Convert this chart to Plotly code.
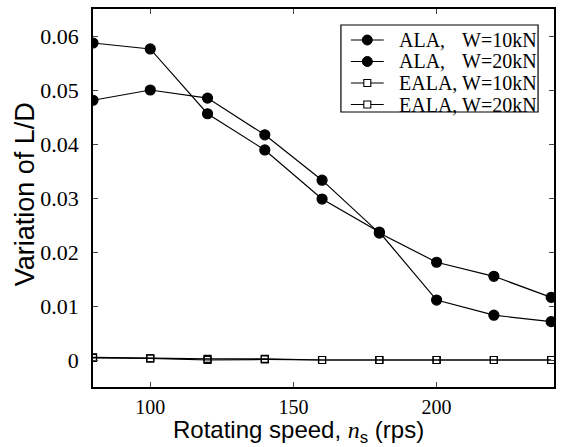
import plotly.graph_objects as go

speed = [80, 100, 120, 140, 160, 180, 200, 220, 240]
ala_10 = [0.0587, 0.0576, 0.0456, 0.0389, 0.0298, 0.0237, 0.0111, 0.0083, 0.0071]
ala_20 = [0.0481, 0.0500, 0.0485, 0.0417, 0.0333, 0.0235, 0.0181, 0.0155, 0.0116]
eala_10 = [0.0005, 0.0003, 0.0002, 0.0002, 0.0, 0.0, 0.0, 0.0, 0.0]
eala_20 = [0.0004, 0.0003, 0.0000, 0.0001, 0.0, 0.0, 0.0, 0.0, 0.0]
method_names = ["ALA,", "ALA,", "EALA,", "EALA,"]
load_names = ["W=10kN", "W=20kN", "W=10kN", "W=20kN"]
y_ticks = [0, 0.01, 0.02, 0.03, 0.04, 0.05, 0.06]
y_ticklabels = ["0", "0.01", "0.02", "0.03", "0.04", "0.05", "0.06"]
x_ticks = [100, 150, 200]

W, H = 562, 447
L, R, T, B = 93, 6, 9, 60
PW, PH = W - L - R, H - T - B


def px(x):
    return (x - L) / PW


def py(y):
    return (H - B - y) / PH


series = [ala_10, ala_20, eala_10, eala_20]
symbols = ["circle", "circle", "square-open", "square-open"]
sizes = [10, 10, 7, 7]

fig = go.Figure()
for ys, m, ld, sym, sz in zip(series, method_names, load_names, symbols, sizes):
    fig.add_trace(go.Scatter(x=speed, y=ys, name=f"{m} {ld}", mode="lines+markers",
                             showlegend=False,
                             line=dict(color="black", width=1.2),
                             marker=dict(symbol=sym, size=sz, color="black",
                                         line=dict(color="black", width=1.2))))

# legend drawn by hand for compact spacing
shapes = []
annotations = []
box = dict(x0=342, x1=540, y0=25, y1=112)
shapes.append(dict(type="rect", xref="paper", yref="paper",
                   x0=px(box["x0"]), x1=px(box["x1"]), y0=py(box["y1"]), y1=py(box["y0"]),
                   line=dict(color="black", width=1.2), fillcolor="white", layer="above"))
row_y = [40, 61.5, 83, 104.5]
for i, (m, ld, sym) in enumerate(zip(method_names, load_names, symbols)):
    yy = py(row_y[i])
    shapes.append(dict(type="line", xref="paper", yref="paper",
                       x0=px(352), x1=px(385), y0=yy, y1=yy,
                       line=dict(color="black", width=1.2), layer="above"))
    if sym == "circle":
        shapes.append(dict(type="circle", xref="paper", yref="paper",
                           xsizemode="pixel", ysizemode="pixel",
                           xanchor=px(368.5), yanchor=yy, x0=-5, x1=5, y0=-5, y1=5,
                           fillcolor="black", line=dict(color="black", width=1), layer="above"))
    else:
        shapes.append(dict(type="rect", xref="paper", yref="paper",
                           xsizemode="pixel", ysizemode="pixel",
                           xanchor=px(368.5), yanchor=yy, x0=-3.5, x1=3.5, y0=-3.5, y1=3.5,
                           fillcolor="white", line=dict(color="black", width=1.1), layer="above"))
    annotations.append(dict(text=m, xref="paper", yref="paper", x=px(398), y=yy,
                            xanchor="left", yanchor="middle", showarrow=False,
                            font=dict(family="Liberation Serif", size=20, color="black")))
    annotations.append(dict(text=ld, xref="paper", yref="paper", x=px(462), y=yy,
                            xanchor="left", yanchor="middle", showarrow=False,
                            font=dict(family="Liberation Serif", size=20, color="black")))

# axis titles
annotations.append(dict(
    text="Rotating speed, <span style='font-family:Liberation Serif'><i>n</i></span><sub>s</sub> (rps)",
    xref="paper", yref="paper", x=px(299), y=py(449), xanchor="center", yanchor="bottom",
    showarrow=False, font=dict(family="Liberation Sans", size=24, color="black")))
annotations.append(dict(
    text="Variation of L/D", textangle=-90,
    xref="paper", yref="paper", x=px(25), y=py(194), xanchor="center", yanchor="middle",
    showarrow=False, font=dict(family="Liberation Sans", size=27, color="black")))

fig.update_layout(
    width=W, height=H,
    margin=dict(l=L, r=R, t=T, b=B),
    paper_bgcolor="white", plot_bgcolor="white",
    showlegend=False,
    shapes=shapes, annotations=annotations,
    xaxis=dict(range=[80, 241], tickvals=x_ticks, ticks="inside", ticklen=5,
               showline=True, linecolor="black", linewidth=1.5, mirror="ticks",
               showgrid=False, zeroline=False, ticklabelstandoff=1,
               tickfont=dict(family="Liberation Serif", size=20, color="black")),
    yaxis=dict(range=[-0.005, 0.065], tickvals=y_ticks, ticktext=y_ticklabels,
               ticks="inside", ticklen=5,
               showline=True, linecolor="black", linewidth=1.5, mirror="ticks",
               showgrid=False, zeroline=False, ticklabelstandoff=8,
               tickfont=dict(family="Liberation Serif", size=22, color="black")),
)

fig.write_html("out.html")
